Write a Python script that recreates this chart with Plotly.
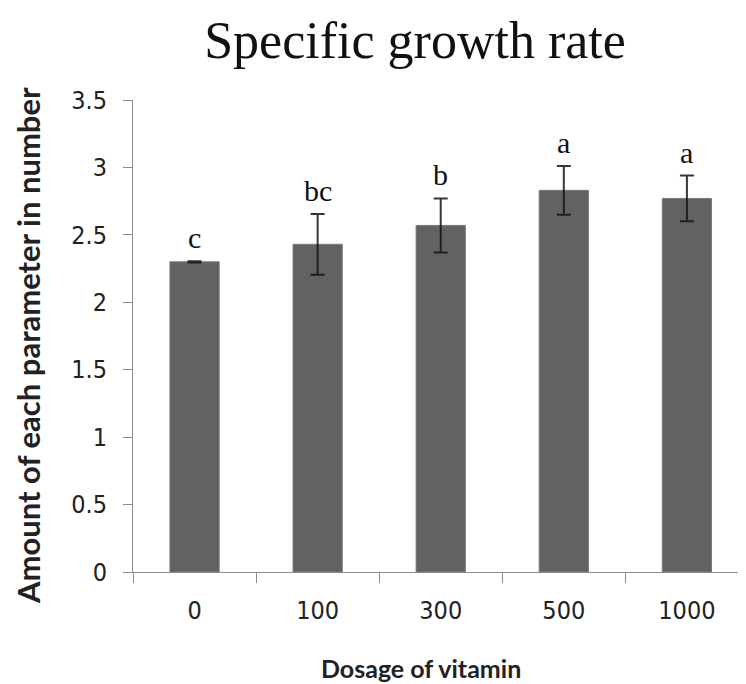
import plotly.graph_objects as go

categories = ["0", "100", "300", "500", "1000"]
growth_rate = [2.30, 2.43, 2.57, 2.83, 2.77]
error = [0.005, 0.225, 0.20, 0.18, 0.17]
letters = ["c", "bc", "b", "a", "a"]
y_ticks = [0, 0.5, 1, 1.5, 2, 2.5, 3, 3.5]

# page body has an 8px margin, so the figure is sized and positioned to compensate
OFF = 8
W, H = 746 - OFF, 684 - OFF
L, T, B = 133 - OFF, 100 - OFF, 112
PW, PH = W - L, H - T - B
PLOT_BOTTOM = H - B  # figure px


def px_x(page_x):
    return (page_x - OFF - L) / PW


def px_y(page_y):
    return (PLOT_BOTTOM - (page_y - OFF)) / PH


TICK_FONT = dict(family="DejaVu Sans Condensed, DejaVu Sans, sans-serif", size=25, color="#222222")

fig = go.Figure()
fig.add_trace(go.Bar(
    x=categories, y=growth_rate, width=0.4,
    marker=dict(color="#626262", line=dict(color="#7a7a7a", width=1)),
    error_y=dict(type="data", array=error, visible=True,
                 color="rgba(20,20,20,0.85)", thickness=2, width=7),
))

for i, (v, e, t) in enumerate(zip(growth_rate, error, letters)):
    fig.add_annotation(x=i, y=v + e, text=t, showarrow=False,
                       yanchor="bottom", yshift=5,
                       font=dict(family="Liberation Serif, Times New Roman, serif",
                                 size=30, color="#111111"))

fig.add_annotation(xref="paper", yref="paper", x=px_x(421), y=px_y(684),
                   text="<b>Dosage of vitamin</b>", showarrow=False,
                   xanchor="center", yanchor="bottom", borderpad=0,
                   font=dict(family="Lato, Open Sans, sans-serif", size=25, color="#222222"))

fig.add_annotation(xref="paper", yref="paper", x=px_x(28), y=px_y(346),
                   text="<b>Amount of each parameter in number</b>", showarrow=False,
                   textangle=-90, xanchor="center", yanchor="middle", borderpad=0,
                   font=dict(family="Lato, Open Sans, sans-serif", size=31, color="#222222"))

fig.update_layout(
    width=W, height=H,
    margin=dict(l=L, r=0, t=T, b=B),
    paper_bgcolor="white", plot_bgcolor="white",
    showlegend=False,
    title=dict(text="Specific growth rate", x=(415 - OFF) / W, xanchor="center",
               y=1 - (40 - OFF) / H, yanchor="middle",
               font=dict(family="Liberation Serif, Times New Roman, serif", size=52, color="#111111")),
    xaxis=dict(type="category", range=[-0.5, 4.48], showgrid=False, automargin=False,
               showline=True, linecolor="#8c8c8c", linewidth=1,
               ticks="outside", tickson="boundaries", ticklen=10, tickcolor="#8c8c8c",
               tickfont=TICK_FONT, ticklabelstandoff=16),
    yaxis=dict(range=[0, 3.5], tickvals=y_ticks, showgrid=False, zeroline=False, automargin=False,
               showline=True, linecolor="#8c8c8c", linewidth=1,
               ticks="outside", ticklen=9, tickcolor="#8c8c8c",
               tickfont=TICK_FONT, ticklabelstandoff=11),
)

fig.write_html("out.html")
